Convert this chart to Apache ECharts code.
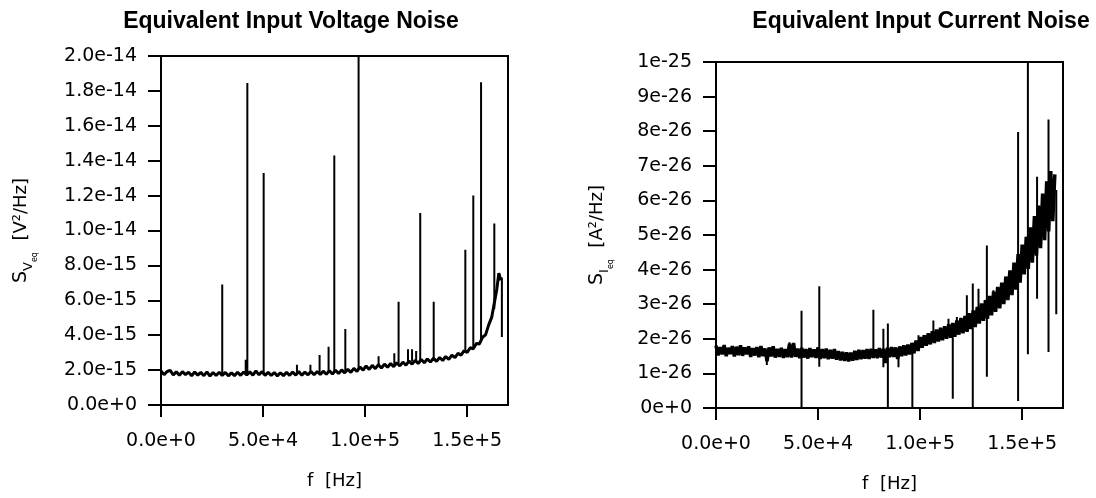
<!DOCTYPE html>
<html><head><meta charset="utf-8">
<script src="https://cdn.jsdelivr.net/npm/echarts@6/dist/echarts.min.js"></script>
<style>html,body{margin:0;padding:0;background:#fff}#c{width:1096px;height:498px}</style>
</head><body><div id="c"></div>
<script>
// ---- tick labels ----
const xTickValues = [0, 50000, 100000, 150000];
const xTickLabels = ['0.0e+0', '5.0e+4', '1.0e+5', '1.5e+5'];
// voltage axis in units of 1e-15 V^2/Hz
const vTickValues = [0, 2, 4, 6, 8, 10, 12, 14, 16, 18, 20];
const vTickLabels = ['0.0e+0','2.0e-15','4.0e-15','6.0e-15','8.0e-15','1.0e-14','1.2e-14','1.4e-14','1.6e-14','1.8e-14','2.0e-14'];
// current axis in units of 1e-26 A^2/Hz
const iTickValues = [0, 1, 2, 3, 4, 5, 6, 7, 8, 9, 10];
const iTickLabels = ['0e+0','1e-26','2e-26','3e-26','4e-26','5e-26','6e-26','7e-26','8e-26','9e-26','1e-25'];

// ---- voltage noise floor (f in kHz, value in 1e-15) ----
const vNoiseKHz = [0,1.5,3,4.5,6,7.5,9,10.5,12,13.5,15,16.5,18,19.5,21,22.5,24,25.5,27,28.5,30,31.5,33,34.5,36,37.5,39,40.5,42,43.5,45,46.5,48,49.5,51,52.5,54,55.5,57,58.5,60,61.5,63,64.5,66,67.5,69,70.5,72,73.5,75,76.5,78,79.5,81,82.5,84,85.5,87,88.5,90,91.5,93,94.5,96,97.5,99,100.5,102,103.5,105,106.5,108,109.5,111,112.5,114,115.5,117,118.5,120,121.5,123,124.5,126,127.5,129,130.5,132,133.5,135,136.5,138,139.5,141,142.5,144,145.5,147,148.5,150,151.5,153,154.5,156,157.5,159,160.5,162,163.5,164.5,165.5,166.5];
const vNoiseVal = [
1.95,1.74,1.92,1.98,1.72,1.90,1.70,1.91,1.74,1.88,
1.68,1.89,1.71,1.87,1.68,1.90,1.66,1.86,1.69,1.88,
1.70,1.87,1.67,1.85,1.68,1.88,1.70,1.89,1.72,1.90,
1.71,1.96,1.73,1.91,1.70,1.88,1.69,1.86,1.67,1.85,
1.68,1.88,1.70,1.89,1.71,1.92,1.70,1.89,1.73,1.92,
1.73,1.92,1.75,1.94,1.76,1.96,1.78,1.99,1.80,2.01,
1.84,2.05,1.87,2.10,1.93,2.18,2.00,2.24,2.04,2.27,
2.08,2.31,2.12,2.34,2.16,2.38,2.20,2.42,2.24,2.46,
2.28,2.52,2.34,2.56,2.38,2.61,2.42,2.64,2.46,2.68,
2.50,2.72,2.55,2.78,2.62,2.86,2.72,2.96,2.86,3.11,
3.02,3.28,3.22,3.52,3.50,3.88,4.02,4.58,5.02,5.98,
6.62,7.55,7.15];
// ---- voltage spikes ----
const vSpikeKHz  = [30.0,41.5,42.3,50.3,66.6,73.2,77.7,82.1,84.9,90.3,96.8,106.6,114.3,116.4,121.0,123.0,125.0,127.0,133.6,149.1,153.0,156.8,163.3,167.0];
const vSpikeLow  = [1.8,1.8,1.8,1.8,1.8,1.8,1.85,1.85,1.9,1.95,2.1,2.25,2.35,2.4,2.45,2.5,2.5,2.55,2.6,3.1,3.3,3.6,5.5,3.9];
const vSpikeHigh = [6.9,2.6,18.45,13.3,2.3,2.3,2.87,3.34,14.3,4.35,20.0,2.8,2.96,5.92,3.2,3.2,3.1,11.0,5.92,8.9,12.0,18.5,10.4,7.3];

// ---- current noise floor (f in kHz, value in 1e-26) ----
const iNoiseKHz = [0,1,2,3,4,5,6,7,8,9,10,11,12,13,14,15,16,17,18,19,20,21,22,23,24,25,26,27,28,29,30,31,32,33,34,35,36,37,38,39,40,41,42,43,44,45,46,47,48,49,50,51,52,53,54,55,56,57,58,59,60,61,62,63,64,65,66,67,68,69,70,71,72,73,74,75,76,77,78,79,80,81,82,83,84,85,86,87,88,89,90,91,92,93,94,95,96,97,98,99,100,101,102,103,104,105,106,107,108,109,110,111,112,113,114,115,116,117,118,119,120,121,122,123,124,125,126,127,128,129,130,131,132,133,134,135,136,137,138,139,140,141,142,143,144,145,146,147,148,149,150,151,152,153,154,155,156,157,158,159,160,161,162,163,164,165,166];
const iNoiseVal = [
1.80,1.52,1.76,1.55,1.82,1.50,1.74,1.56,1.79,1.49,
1.77,1.53,1.81,1.51,1.75,1.55,1.78,1.48,1.73,1.52,
1.76,1.47,1.79,1.50,1.72,1.35,1.75,1.49,1.78,1.46,
1.71,1.48,1.74,1.45,1.70,1.47,1.86,1.46,1.88,1.48,
1.72,1.44,1.74,1.46,1.70,1.43,1.73,1.47,1.69,1.45,
1.75,1.42,1.70,1.44,1.72,1.41,1.68,1.43,1.70,1.40,
1.64,1.38,1.62,1.36,1.61,1.35,1.60,1.37,1.65,1.39,
1.68,1.41,1.67,1.43,1.70,1.42,1.71,1.45,1.69,1.44,
1.73,1.46,1.71,1.30,1.74,1.47,1.76,1.48,1.75,1.42,
1.78,1.50,1.81,1.52,1.83,1.55,1.88,1.58,1.95,1.65,
2.05,1.74,2.10,1.80,2.16,1.84,2.22,1.88,2.27,1.92,
2.32,1.96,2.36,2.00,2.42,2.03,2.46,2.06,2.53,2.12,
2.60,2.16,2.66,2.20,2.74,2.28,2.82,2.34,2.92,2.44,
3.02,2.52,3.12,2.58,3.24,2.68,3.36,2.78,3.50,2.88,
3.62,3.00,3.80,3.12,3.98,3.26,4.20,3.42,4.45,3.62,
4.72,3.86,4.95,4.02,5.22,4.20,5.55,4.40,5.85,4.62,
6.20,4.85,6.55,5.10,6.85,5.40,6.75];
// ---- current spikes ----
const iSpikeKHz  = [24.9,36,38,41.9,50.6,77.1,82.0,84.2,89.4,96.2,99.2,106.5,113.9,116.0,118.0,122.9,125.8,128.6,132.7,135.9,148.0,152.8,157.3,162.9,166.7];
const iSpikeLow  = [1.24,1.55,1.55,0,1.19,1.5,1.18,0,1.18,0,1.7,1.95,2.1,0.27,2.2,2.3,0,2.5,0.9,2.8,0.2,1.55,3.16,1.62,2.71];
const iSpikeHigh = [1.6,1.9,1.88,2.81,3.52,2.84,2.29,2.44,1.7,1.7,2.1,2.53,2.58,2.3,2.63,3.26,3.6,3.45,4.7,3.4,7.98,10.0,6.68,8.34,6.3];

const noiseData = (fk, vals) => fk.map((f, i) => [f * 1000, vals[i]]);
const spikeData = (fk, lo, hi) => fk.flatMap((f, i) => [[f * 1000, lo[i]], [f * 1000, hi[i]], [f * 1000, '-']]);

const TICK_FONT = 'DejaVu Sans';
const black = '#000';
function xAxisOpt(gi) {
  return {
    gridIndex: gi, type: 'value', min: 0, max: 170000, interval: 50000,
    axisLine: { show: true, lineStyle: { color: black, width: 2 } },
    axisTick: { show: true, inside: false, length: 12, customValues: xTickValues, lineStyle: { color: black, width: 2 } },
    axisLabel: { customValues: xTickValues, margin: 27, color: black, fontFamily: TICK_FONT, fontSize: 19,
      formatter: v => xTickLabels[xTickValues.indexOf(v)] },
    splitLine: { show: false },
    name: 'f  [Hz]', nameLocation: 'middle', nameGap: 67,
    nameTextStyle: { color: black, fontFamily: TICK_FONT, fontSize: 18 }
  };
}
function yAxisOpt(gi, vals, labels, nameRich, gap) {
  return {
    gridIndex: gi, type: 'value', min: 0, max: vals[vals.length - 1], interval: vals[1] - vals[0],
    axisLine: { show: true, lineStyle: { color: black, width: 2 } },
    axisTick: { show: true, inside: false, length: 13, customValues: vals, lineStyle: { color: black, width: 2 } },
    axisLabel: { customValues: vals, margin: 24, color: black, fontFamily: TICK_FONT, fontSize: 19,
      formatter: v => labels[vals.indexOf(v)] },
    splitLine: { show: false },
    name: nameRich, nameLocation: 'middle', nameGap: gap,
    nameTextStyle: {
      color: black, fontFamily: TICK_FONT, fontSize: 18,
      rich: {
        s: { fontFamily: TICK_FONT, fontSize: 19, color: black, lineHeight: 30, verticalAlign: 'top', padding: [2, 0, 0, 0] },
        v: { fontFamily: TICK_FONT, fontSize: 13, color: black, lineHeight: 30, verticalAlign: 'top', padding: [12, 0, 0, 0] },
        e: { fontFamily: TICK_FONT, fontSize: 8, color: black, lineHeight: 30, verticalAlign: 'top', padding: [21, 0, 0, 0] },
        n: { fontFamily: TICK_FONT, fontSize: 18, color: black, lineHeight: 30, verticalAlign: 'top', padding: [2, 0, 0, 0] }
      }
    }
  };
}

const chart = echarts.init(document.getElementById('c'), null, { renderer: 'canvas' });
const titleStyle = { color: black, fontFamily: 'Liberation Sans', fontWeight: 'bold', fontSize: 23 };
chart.setOption({
  animation: false,
  backgroundColor: '#fff',
  title: [
    { text: 'Equivalent Input Voltage Noise', left: 286, top: 5, textAlign: 'center', textStyle: titleStyle },
    { text: 'Equivalent Input Current Noise', left: 916, top: 5, textAlign: 'center', textStyle: titleStyle }
  ],
  grid: [
    { left: 161, top: 56, width: 347, height: 349, show: true, borderColor: black, borderWidth: 2, backgroundColor: 'transparent' },
    { left: 716, top: 62, width: 347, height: 346, show: true, borderColor: black, borderWidth: 2, backgroundColor: 'transparent' }
  ],
  xAxis: [xAxisOpt(0), xAxisOpt(1)],
  yAxis: [
    yAxisOpt(0, vTickValues, vTickLabels, '{s|S}{v|V}{e|eq}  {n|[V²/Hz]}', 121),
    yAxisOpt(1, iTickValues, iTickLabels, '{s|S}{v|I}{e|eq}  {n|[A²/Hz]}', 100)
  ],
  series: [
    { type: 'line', xAxisIndex: 0, yAxisIndex: 0, data: noiseData(vNoiseKHz, vNoiseVal), showSymbol: false,
      lineStyle: { color: black, width: 3 }, clip: true },
    { type: 'line', xAxisIndex: 0, yAxisIndex: 0, data: spikeData(vSpikeKHz, vSpikeLow, vSpikeHigh), showSymbol: false,
      connectNulls: false, lineStyle: { color: black, width: 2 }, clip: true },
    { type: 'line', xAxisIndex: 1, yAxisIndex: 1, data: noiseData(iNoiseKHz, iNoiseVal), showSymbol: false,
      lineStyle: { color: black, width: 3.5 }, clip: true },
    { type: 'line', xAxisIndex: 1, yAxisIndex: 1, data: spikeData(iSpikeKHz, iSpikeLow, iSpikeHigh), showSymbol: false,
      connectNulls: false, lineStyle: { color: black, width: 2 }, clip: true }
  ]
});
</script>
</body></html>
